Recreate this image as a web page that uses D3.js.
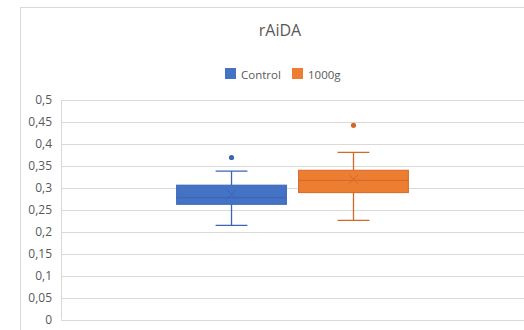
<!DOCTYPE html>
<html>
<head>
<meta charset="utf-8">
<script src="https://cdn.jsdelivr.net/npm/d3@7"></script>
<style>
body{margin:0;background:#fff;}
text{font-family:"Open Sans","Noto Sans",sans-serif;}
</style>
</head>
<body>
<svg id="c" width="524" height="330"></svg>
<script>
const categories = [""];
const series = ["Control", "1000g"];
const colors = ["#4472C4", "#ED7D31"];
const strokes = ["#3A65B5", "#D2692A"];
// box stats per series: [lowerWhisker, q1, median, q3, upperWhisker]
const whiskerLow = [0.2145, 0.226];
const q1Values = [0.2624, 0.289];
const medianValues = [0.2775, 0.317];
const q3Values = [0.306, 0.340];
const whiskerHigh = [0.338, 0.3805];
const meanValues = [0.285, 0.3195];
const outliers = [[0.369], [0.4424]];
const yTicks = [0, 0.05, 0.1, 0.15, 0.2, 0.25, 0.3, 0.35, 0.4, 0.45, 0.5];
const title = "rAiDA";

const svg = d3.select("#c");
const plotLeft = 61, plotRight = 524, plotTop = 100, plotBottom = 319.5;

// chart border
svg.append("rect").attr("x", 20.5).attr("y", 7.5).attr("width", 540).attr("height", 340)
  .attr("fill", "#fff").attr("stroke", "#D9D9D9");

const y = d3.scaleLinear().domain([0, 0.5]).range([plotBottom, plotTop]);
const x0 = d3.scaleBand().domain(categories).range([plotLeft, plotRight]);
const x1 = d3.scaleBand().domain(series).range([x0(""), x0("") + x0.bandwidth()])
  .paddingInner(0.1).paddingOuter(0.948);

// gridlines
svg.append("g").selectAll("line").data(yTicks).join("line")
  .attr("x1", plotLeft).attr("x2", plotRight)
  .attr("y1", d => Math.round(y(d)) + 0.5).attr("y2", d => Math.round(y(d)) + 0.5)
  .attr("stroke", "#D9D9D9").attr("stroke-width", 1);
// vertical axis line
svg.append("line").attr("x1", plotLeft + 0.5).attr("x2", plotLeft + 0.5)
  .attr("y1", y(0.5)).attr("y2", y(0)).attr("stroke", "#D9D9D9");

// y labels
const yAxis = d3.axisLeft(y).tickValues(yTicks).tickSize(0).tickPadding(9)
  .tickFormat(d => String(d).replace(".", ","));
const ga = svg.append("g").attr("transform", `translate(${plotLeft},0)`).call(yAxis);
ga.select(".domain").remove();
ga.selectAll("text").attr("fill", "#595959").style("font-size", "12px")
  .style("font-family", "'Open Sans','Noto Sans',sans-serif");

// title
svg.append("text").attr("x", 280).attr("y", 36).attr("text-anchor", "middle")
  .attr("fill", "#595959").style("font-size", "16px").text(title);

// legend
const leg = svg.append("g");
const legX = [225, 292];
series.forEach((s, i) => {
  leg.append("rect").attr("x", legX[i]).attr("y", 68).attr("width", 11).attr("height", 11)
    .attr("fill", colors[i]);
  leg.append("text").attr("x", legX[i] + 16).attr("y", 78.5).attr("fill", "#595959")
    .style("font-size", "11.5px").text(s);
});

// boxes
series.forEach((s, i) => {
  const bx = x1(s), bw = x1.bandwidth(), cx = bx + bw / 2;
  const capW = bw * 0.29;
  const g = svg.append("g");
  const c = strokes[i];
  g.append("line").attr("x1", cx).attr("x2", cx).attr("y1", y(whiskerHigh[i])).attr("y2", y(q3Values[i]))
    .attr("stroke", c).attr("stroke-width", 1.3);
  g.append("line").attr("x1", cx).attr("x2", cx).attr("y1", y(q1Values[i])).attr("y2", y(whiskerLow[i]))
    .attr("stroke", c).attr("stroke-width", 1.3);
  g.append("line").attr("x1", cx - capW / 2).attr("x2", cx + capW / 2)
    .attr("y1", y(whiskerHigh[i])).attr("y2", y(whiskerHigh[i])).attr("stroke", c).attr("stroke-width", 1.3);
  g.append("line").attr("x1", cx - capW / 2).attr("x2", cx + capW / 2)
    .attr("y1", y(whiskerLow[i])).attr("y2", y(whiskerLow[i])).attr("stroke", c).attr("stroke-width", 1.3);
  g.append("rect").attr("x", bx).attr("y", y(q3Values[i])).attr("width", bw)
    .attr("height", y(q1Values[i]) - y(q3Values[i]))
    .attr("fill", colors[i]).attr("stroke", c).attr("stroke-width", 1);
  g.append("line").attr("x1", bx).attr("x2", bx + bw).attr("y1", y(medianValues[i])).attr("y2", y(medianValues[i]))
    .attr("stroke", c).attr("stroke-width", 1);
  const my = y(meanValues[i]), m = 4.5;
  g.append("path").attr("d", `M${cx - m},${my - m}L${cx + m},${my + m}M${cx - m},${my + m}L${cx + m},${my - m}`)
    .attr("stroke", c).attr("stroke-width", 1).attr("fill", "none");
  g.selectAll("circle").data(outliers[i]).join("circle")
    .attr("cx", cx).attr("cy", d => y(d)).attr("r", 2.6).attr("fill", c);
});
</script>
</body>
</html>
